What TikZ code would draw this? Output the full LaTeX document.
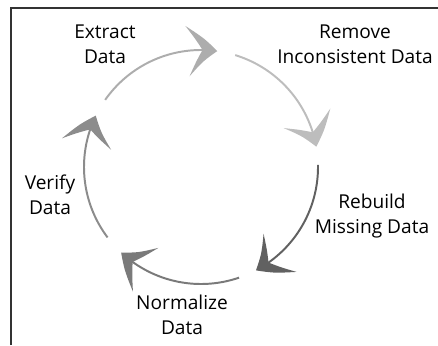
\documentclass[tikz,border=0pt]{standalone}
\usepackage{fontspec}
\setmainfont{Open Sans}
\usetikzlibrary{arrows.meta,bending}

\begin{document}
\begin{tikzpicture}
	[lbl/.style={align=center, font=\fontsize{13.6}{17.8}\selectfont},
	 seg/.style={line width=1.4pt, -{Stealth[length=0.75cm,width=1.25cm,inset=0.38cm,bend]}}]
	\useasboundingbox (-5.025,-4.45) rectangle (5.925,4.175);
	\draw[line width=1.4pt, black!80] (-4.75,-4.45) -- (-4.75,3.975) -- (5.925,3.975);
	
	\node[lbl] (extract) at (-2.4,3.075) {Extract\\Data};
	\node[lbl] (remove) at (3.85,3.075) {Remove\\Inconsistent Data};
	\node[lbl] (rebuild) at (4.275,-1.225) {Rebuild\\Missing Data};
	\node[lbl] (normalize) at (-0.475,-3.7) {Normalize\\Data};
	\node[lbl] (verify) at (-3.775,-0.7) {Verify\\Data};
	
	\foreach \name/\from/\to/\shade in {s1/145/82/black!32,s2/73/10/black!26,s3/1/-62/black!62,s4/-71/-133/black!52,s5/-143/-206/black!45}
	{
	\coordinate (\name) at (\from:2.925);
	\draw[seg, \shade] (\name) arc[start angle=\from, end angle=\to, radius=2.925];
	}
\end{tikzpicture}
\end{document}
